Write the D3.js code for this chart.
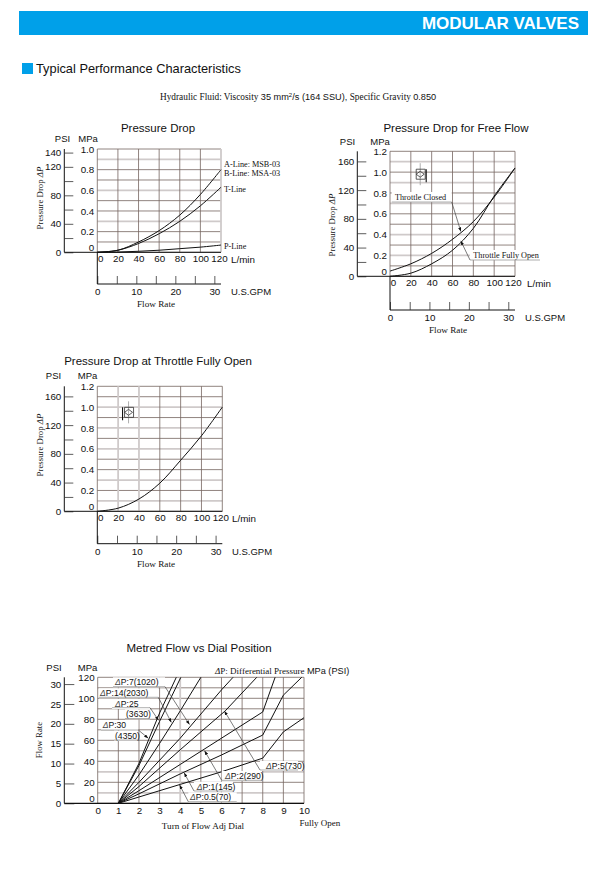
<!DOCTYPE html>
<html>
<head>
<meta charset="utf-8">
<script src="https://cdn.jsdelivr.net/npm/d3@7"></script>
<style>
  body { margin: 0; background: #fff; }
  svg { display: block; }
  text { font-family: "Liberation Sans", Arial, sans-serif; fill: #111; }
  .serif { font-family: "Liberation Serif", "Times New Roman", serif; }
  .domain { stroke: #111; }
</style>
</head>
<body>
<div id="wrapper"></div>
<script>
// values
const flowLmin = [0, 20, 40, 60, 80, 100, 120]
const abLine = [0, 0.02, 0.1, 0.21, 0.36, 0.56, 0.8]
const tLine = [0, 0.02, 0.085, 0.18, 0.3, 0.45, 0.63]
const pLine = [0, 0.002, 0.01, 0.02, 0.035, 0.05, 0.07]
const throttleClosed = [0.05, 0.12, 0.22, 0.355, 0.525, 0.76, 1.04]
const throttleOpen = [0, 0.03, 0.12, 0.25, 0.46, 0.77, 1.04]
const fullyOpen = [0, 0.03, 0.118, 0.27, 0.49, 0.725, 1.0]

const dp30Dial = [1, 2, 3, 3.81]
const dp30Flow = [0, 38, 86, 120]
const dp25Dial = [1, 2, 3, 4.03]
const dp25Flow = [0, 36, 78, 120]
const dp14Dial = [1, 2, 3, 4, 5]
const dp14Flow = [0, 27, 57, 88, 120]
const dp7Dial = [1, 2, 4, 6, 6.56]
const dp7Flow = [0, 20, 62, 108, 120]
const dp5Dial = [1, 2, 4, 6.18, 7.71]
const dp5Flow = [0, 16, 51, 88, 120]
const dp2Dial = [1, 2, 4, 6, 8, 8.6]
const dp2Flow = [0, 12, 37, 62, 87, 120]
const dp1Dial = [1, 2, 4, 6, 8, 9, 9.89]
const dp1Flow = [0, 9, 28, 46, 65, 103, 120]
const dp05Dial = [1, 2, 4, 6, 8, 9, 10]
const dp05Flow = [0, 6, 18, 30, 43, 68, 81.5]

const gpmTicks = [0, 5, 10, 15, 20, 25, 30]
const gpmLabels = [0, 10, 20, 30]
const dialTicks = [0, 1, 2, 3, 4, 5, 6, 7, 8, 9, 10]
const flowRateTicks = [0, 5, 10, 15, 20, 25, 30]
const flowLminTicks = [0, 20, 40, 60, 80, 100, 120]

const blue = "#00a0e9"
const gridColor = "#75655f"
const fadedColor = "#cfcaca"

const svg = d3.select("#wrapper").append("svg")
    .attr("width", 603)
    .attr("height", 876)

const defs = svg.append("defs")
defs.append("marker")
    .attr("id", "tip")
    .attr("viewBox", "0 0 8 6")
    .attr("refX", 8)
    .attr("refY", 3)
    .attr("markerWidth", 6)
    .attr("markerHeight", 4.5)
    .attr("orient", "auto")
  .append("path")
    .attr("d", "M0,0L8,3L0,6Z")
    .attr("fill", "#111")

//page header
svg.append("rect").attr("x", 19).attr("y", 11).attr("width", 569).attr("height", 24).attr("fill", blue)
svg.append("text").attr("x", 579).attr("y", 29).attr("text-anchor", "end")
    .attr("font-size", 17).attr("font-weight", "bold").style("fill", "#fff").text("MODULAR VALVES")
svg.append("rect").attr("x", 22).attr("y", 63).attr("width", 11).attr("height", 11).attr("fill", blue)
svg.append("text").attr("x", 36).attr("y", 72.8).attr("font-size", 12.8).text("Typical Performance Characteristics")

const fluid = svg.append("text").attr("x", 160).attr("y", 100).attr("font-size", 9.3).attr("class", "serif")
fluid.append("tspan").text("Hydraulic Fluid: Viscosity ")
fluid.append("tspan").style("font-family", "Liberation Sans").attr("font-size", 9.2).text("35 mm")
fluid.append("tspan").style("font-family", "Liberation Sans").attr("font-size", 6).attr("dy", -3).text("2")
fluid.append("tspan").style("font-family", "Liberation Sans").attr("font-size", 9.2).attr("dy", 3).text("/s (164 SSU),")
fluid.append("tspan").text(" Specific Gravity ")
fluid.append("tspan").style("font-family", "Liberation Sans").attr("font-size", 9.2).text("0.850")

function centerText(x, y, str, size, cls) {
    return svg.append("text")
        .attr("x", x).attr("y", y)
        .attr("dy", "0.35em")
        .attr("text-anchor", "middle")
        .attr("font-size", size)
        .attr("class", cls || null)
        .text(str)
}

function leftText(x, y, str, size, cls) {
    return centerText(x, y, str, size, cls).attr("text-anchor", "start")
}

function rotatedTitle(x, y, label, delta) {
    const t = svg.append("text")
        .attr("transform", `translate(${x},${y}) rotate(-90)`)
        .attr("text-anchor", "middle")
        .attr("font-size", 8.8)
        .attr("class", "serif")
    t.append("tspan").text(label)
    if (delta) t.append("tspan").attr("font-style", "italic").text(" \u0394P")
}

function drawGrid(b, xScale, yScale, xVals, yVals, fadedX, fadedY) {
    b.append("g").selectAll("line").data(yVals).join("line")
        .attr("x1", xScale.range()[0]).attr("x2", xScale.range()[1])
        .attr("y1", yScale).attr("y2", yScale)
        .attr("stroke", d => fadedY.includes(d) ? fadedColor : gridColor)
        .attr("stroke-width", d => fadedY.includes(d) ? 1.8 : 0.8)
    b.append("g").selectAll("line").data(xVals).join("line")
        .attr("y1", yScale.range()[0]).attr("y2", yScale.range()[1])
        .attr("x1", xScale).attr("x2", xScale)
        .attr("stroke", d => fadedX.includes(d) ? fadedColor : gridColor)
        .attr("stroke-width", d => fadedX.includes(d) ? 1.8 : 0.8)
}

function styleAxis(g, size) {
    g.selectAll("text").attr("font-size", size).style("font-family", "Liberation Sans")
    g.selectAll(".tick line").attr("stroke", "#333").attr("stroke-width", 0.8)
}

//the three pressure drop charts share one frame
function pressureChart(dim) {
    const bounds = svg.append("g")
    const xScale = d3.scaleLinear().domain([0, 120]).range([dim.x0, dim.x1])
    const yScale = d3.scaleLinear().domain([0, dim.maxMpa]).range([dim.y0, dim.y1])
    const psiScale = d3.scaleLinear().domain([0, dim.maxMpa * 145.04]).range([dim.y0, dim.y1])
    const gpmScale = d3.scaleLinear().domain([0, 120 / 3.785]).range([dim.x0, dim.x1])

    drawGrid(bounds, xScale, yScale, flowLminTicks, d3.range(0, dim.maxMpa + 0.01, 0.1).map(d => +d.toFixed(1)), dim.fadedX, dim.fadedY)

    const mpaAxis = d3.axisLeft(yScale).tickValues(d3.range(0, dim.maxMpa + 0.01, 0.2)).tickSize(0).tickPadding(3)
        .tickFormat(d => d === 0 ? "0" : d.toFixed(1))
    bounds.append("g").attr("transform", `translate(${dim.x0},0)`).call(mpaAxis)
        .call(g => styleAxis(g, 9.8))
        .call(g => g.select(".domain").remove())
        .call(g => g.selectAll(".tick text").filter(d => d === 0).attr("dy", "-0.2em"))

    const psiAxis = d3.axisLeft(psiScale).tickValues(dim.psiTicks).tickSizeOuter(0).tickSizeInner(-9).tickPadding(3)
        .tickFormat(d => dim.psiLabels.includes(d) ? d : "")
    bounds.append("g").attr("transform", `translate(${dim.psiX},0)`).call(psiAxis)
        .call(g => styleAxis(g, 9.8))
        .call(g => g.select(".domain").attr("d", `M0,${dim.y0}V${dim.y1}`))

    //baseline from the PSI axis through the plot
    bounds.append("line").attr("x1", dim.psiX).attr("x2", dim.x1).attr("y1", dim.y0).attr("y2", dim.y0)
        .attr("stroke", "#111").attr("stroke-width", 1)

    const lAxis = d3.axisBottom(xScale).tickValues(flowLminTicks).tickSize(0).tickPadding(3).tickFormat(d => d)
    bounds.append("g").attr("transform", `translate(0,${dim.y0})`).call(lAxis)
        .call(g => styleAxis(g, 9.8))
        .call(g => g.select(".domain").remove())
        .call(g => g.selectAll(".tick text").filter(d => d === 0).attr("dx", 3))
        .call(g => g.selectAll(".tick text").filter(d => d === 120).attr("dx", -2))

    const gpmAxis = d3.axisBottom(gpmScale).tickValues(gpmTicks).tickSizeOuter(0).tickSizeInner(-8).tickPadding(4)
        .tickFormat(d => gpmLabels.includes(d) ? d : "")
    bounds.append("g").attr("transform", `translate(0,${dim.gpmY})`).call(gpmAxis)
        .call(g => styleAxis(g, 9.8))
        .call(g => g.select(".domain").attr("d", `M${dim.x0},0H${dim.x1}`))

    //stem joining the flow axis and the GPM axis
    bounds.append("line").attr("x1", dim.x0).attr("x2", dim.x0).attr("y1", dim.y0).attr("y2", dim.gpmY)
        .attr("stroke", "#111").attr("stroke-width", 1)

    const lineGenerator = d3.line()
        .x((d, i) => xScale(flowLmin[i]))
        .y(d => yScale(d))
        .curve(d3.curveCatmullRom.alpha(0.5))

    bounds.append("g").selectAll("path").data(dim.series).join("path")
        .attr("d", lineGenerator)
        .attr("fill", "none")
        .attr("stroke", "#111")
        .attr("stroke-width", 1)

    centerText(dim.titleX, dim.titleY, dim.title, 11.5)
    centerText(dim.psiLabelX, dim.unitY, "PSI", 9.5)
    centerText(dim.mpaLabelX, dim.unitY, "MPa", 9.5)
    leftText(dim.lminX, dim.y0 + 7, "L/min", 9.8)
    leftText(dim.gpmLabelX, dim.gpmY + 8, "U.S.GPM", 9.5)
    centerText(dim.flowTitleX, dim.gpmY + 20, "Flow Rate", 9.2, "serif")
    rotatedTitle(dim.yTitleX, dim.yTitleY, "Pressure Drop", true)
    return { xScale, yScale }
}

//valve symbol, placed in plot units
function valveSymbol(x, y, flipped) {
    const g = svg.append("g").attr("transform", `translate(${x},${y})`)
        .attr("fill", "none").attr("stroke", "#333").attr("stroke-width", 0.8)
    const s = flipped ? -1 : 1
    g.append("path").attr("stroke", "#999").attr("d", "M0,-11V11")
    g.append("path").attr("d", "M-4,-5H5V5H-4Z M-4,0L0,-3L4,0L0,3Z")
    g.append("path").attr("stroke", "#111").attr("stroke-width", 1.1).attr("d", `M${-6 * s},-5V8`)
}

const first = pressureChart({
    title: "Pressure Drop", titleX: 158, titleY: 128,
    x0: 97.3, x1: 221, y0: 252.3, y1: 149, gpmY: 284, psiX: 64.3, maxMpa: 1,
    psiTicks: d3.range(0, 141, 20), psiLabels: [0, 40, 80, 120, 140],
    fadedX: [120], fadedY: [0.3, 0.6, 0.9],
    series: [abLine, tLine, pLine],
    psiLabelX: 62.5, mpaLabelX: 88, unitY: 139,
    lminX: 231, gpmLabelX: 231, flowTitleX: 156, yTitleX: 43, yTitleY: 198
})
leftText(224, 164, "A-Line: MSB-03", 8.2, "serif")
leftText(224, 172.7, "B-Line: MSA-03", 8.2, "serif")
leftText(224, 189, "T-Line", 8.2, "serif")
leftText(224, 246, "P-Line", 8.2, "serif")

const second = pressureChart({
    title: "Pressure Drop for Free Flow", titleX: 456, titleY: 128,
    x0: 390, x1: 515, y0: 276.3, y1: 151.3, gpmY: 310, psiX: 357.3, maxMpa: 1.2,
    psiTicks: d3.range(0, 161, 20), psiLabels: [0, 40, 80, 120, 160],
    fadedX: [], fadedY: [0.2, 0.4, 0.7, 0.9, 1.1],
    series: [throttleClosed, throttleOpen],
    psiLabelX: 347.5, mpaLabelX: 380, unitY: 141.7,
    lminX: 527, gpmLabelX: 525, flowTitleX: 448, yTitleX: 335, yTitleY: 225
})
valveSymbol(second.xScale(29), second.yScale(0.98), true)

const third = pressureChart({
    title: "Pressure Drop at Throttle Fully Open", titleX: 158, titleY: 361,
    x0: 97.3, x1: 222.3, y0: 511.3, y1: 386.3, gpmY: 543.7, psiX: 64.3, maxMpa: 1.2,
    psiTicks: d3.range(0, 161, 20), psiLabels: [0, 40, 80, 120, 160],
    fadedX: [20, 40], fadedY: [0.1, 0.3, 0.6, 0.8, 1.0],
    series: [fullyOpen],
    psiLabelX: 53.5, mpaLabelX: 87.5, unitY: 376,
    lminX: 232, gpmLabelX: 232, flowTitleX: 156, yTitleX: 43, yTitleY: 445
})
valveSymbol(third.xScale(30), third.yScale(0.95), false)

//annotation with a label, a shelf under it and a leader to the curve
function callout(label, textX, textY, shelf, shelfY, elbowX, tip, size) {
    const w = shelf[1] - shelf[0]
    svg.append("rect").attr("x", shelf[0]).attr("y", textY - 5).attr("width", w).attr("height", 10).attr("fill", "#fff")
    const t = svg.append("text").attr("x", textX).attr("y", textY).attr("dy", "0.35em").attr("font-size", size || 8.6)
    if (label.startsWith("\u0394")) {
        t.append("tspan").attr("font-style", "italic").style("fill", "#444").text("\u0394")
        t.append("tspan").text(label.slice(1))
    } else {
        t.text(label)
    }
    svg.append("line").attr("x1", shelf[0]).attr("x2", shelf[1]).attr("y1", shelfY).attr("y2", shelfY)
        .attr("stroke", "#999").attr("stroke-width", 0.8)
    if (tip) {
        svg.append("line").attr("x1", elbowX).attr("y1", shelfY).attr("x2", tip[0]).attr("y2", tip[1])
            .attr("stroke", "#444").attr("stroke-width", 0.7)
            .attr("marker-end", "url(#tip)")
    }
}

callout("Throttle Closed", 395, 197, [391.7, 451.7], 202, 451.7, [second.xScale(68), second.yScale(0.43)], 8.2)
callout("Throttle Fully Open", 473.3, 255, [470, 540], 260, 470, [second.xScale(68), second.yScale(0.34)], 8.2)
svg.selectAll("text").filter(function () { return this.textContent.startsWith("Throttle") }).attr("class", "serif")

//metred flow chart
const dial = d3.scaleLinear().domain([0, 10]).range([97.7, 304])
const flow = d3.scaleLinear().domain([0, 120]).range([803.3, 677.3])
const flowGpm = d3.scaleLinear().domain([0, 120 / 3.785]).range([803.3, 677.3])

const chart4 = svg.append("g")
drawGrid(chart4, dial, flow, dialTicks, d3.range(0, 121, 10), [4], [10, 30])

chart4.append("g").attr("transform", `translate(${dial(0)},0)`)
    .call(d3.axisLeft(flow).tickValues(d3.range(0, 121, 20)).tickSize(0).tickPadding(3))
    .call(g => styleAxis(g, 9.8))
    .call(g => g.select(".domain").remove())
    .call(g => g.selectAll(".tick text").filter(d => d === 0).attr("dy", "-0.2em"))

chart4.append("g").attr("transform", "translate(64.3,0)")
    .call(d3.axisLeft(flowGpm).tickValues(flowRateTicks).tickSizeOuter(0).tickSizeInner(-10).tickPadding(3))
    .call(g => styleAxis(g, 9.8))
    .call(g => g.select(".domain").attr("d", `M0,${flow(0)}V${flow(120)}`))

chart4.append("g").attr("transform", `translate(0,${flow(0)})`)
    .call(d3.axisBottom(dial).tickValues(dialTicks).tickSize(0).tickPadding(4))
    .call(g => styleAxis(g, 9.8))
    .call(g => g.select(".domain").remove())

chart4.append("line").attr("x1", 64.3).attr("x2", dial(10)).attr("y1", flow(0)).attr("y2", flow(0))
    .attr("stroke", "#111").attr("stroke-width", 1.2)

const dialSeries = [
    [dp30Dial, dp30Flow], [dp25Dial, dp25Flow], [dp14Dial, dp14Flow], [dp7Dial, dp7Flow],
    [dp5Dial, dp5Flow], [dp2Dial, dp2Flow], [dp1Dial, dp1Flow], [dp05Dial, dp05Flow]
]
const dialLine = d3.line().x(d => dial(d[0])).y(d => flow(d[1]))
chart4.append("g").selectAll("path").data(dialSeries).join("path")
    .attr("d", s => dialLine(d3.zip(s[0], s[1])))
    .attr("fill", "none")
    .attr("stroke", "#111")
    .attr("stroke-width", 1)

centerText(199, 648, "Metred Flow vs Dial Position", 11.5)
centerText(54, 667.7, "PSI", 9.5)
centerText(87.5, 667.7, "MPa", 9.5)
rotatedTitle(42, 740, "Flow Rate", false)
centerText(203, 826, "Turn of Flow Adj Dial", 9.2, "serif")
centerText(320, 823, "Fully Open", 9, "serif")

const heading = svg.append("text").attr("x", 215).attr("y", 671).attr("dy", "0.35em").attr("font-size", 9).attr("class", "serif")
heading.append("tspan").attr("font-style", "italic").text("\u0394")
heading.append("tspan").text("P: Differential Pressure ")
heading.append("tspan").style("font-family", "Liberation Sans").attr("font-size", 9.2).text(" MPa (PSI)")

callout("\u0394P:7(1020)", 115, 682.3, [113, 165], 686.7, 165, [dial(4.45), flow(75)])
callout("\u0394P:14(2030)", 100, 693.3, [99, 158.3], 697.3, 158.3, [dial(3.57), flow(77)])
callout("\u0394P:25", 115, 704, [112, 150], 707.7, 150, [dial(2.95), flow(79)])
callout("(3630)", 126, 714.3, [125, 150], 718.5)
callout("\u0394P:30", 102.7, 725, [101, 138.3], 730, 138.3, [dial(2.45), flow(62)])
callout("(4350)", 115, 735.7, [114, 138], 740)
callout("\u0394P:5(730)", 266, 766, [260, 298], 770, 260, [dial(6.14), flow(88)])
callout("\u0394P:2(290)", 225, 776, [221.7, 262], 780.3, 221.7, [dial(5.18), flow(50)])
callout("\u0394P:1(145)", 196.7, 786.7, [194, 233], 791, 194, [dial(4.19), flow(29)])
callout("\u0394P:0.5(70)", 190, 797.3, [188.3, 236.7], 801.7, 188.3, [dial(3.97), flow(17.5)])
</script>
</body>
</html>
